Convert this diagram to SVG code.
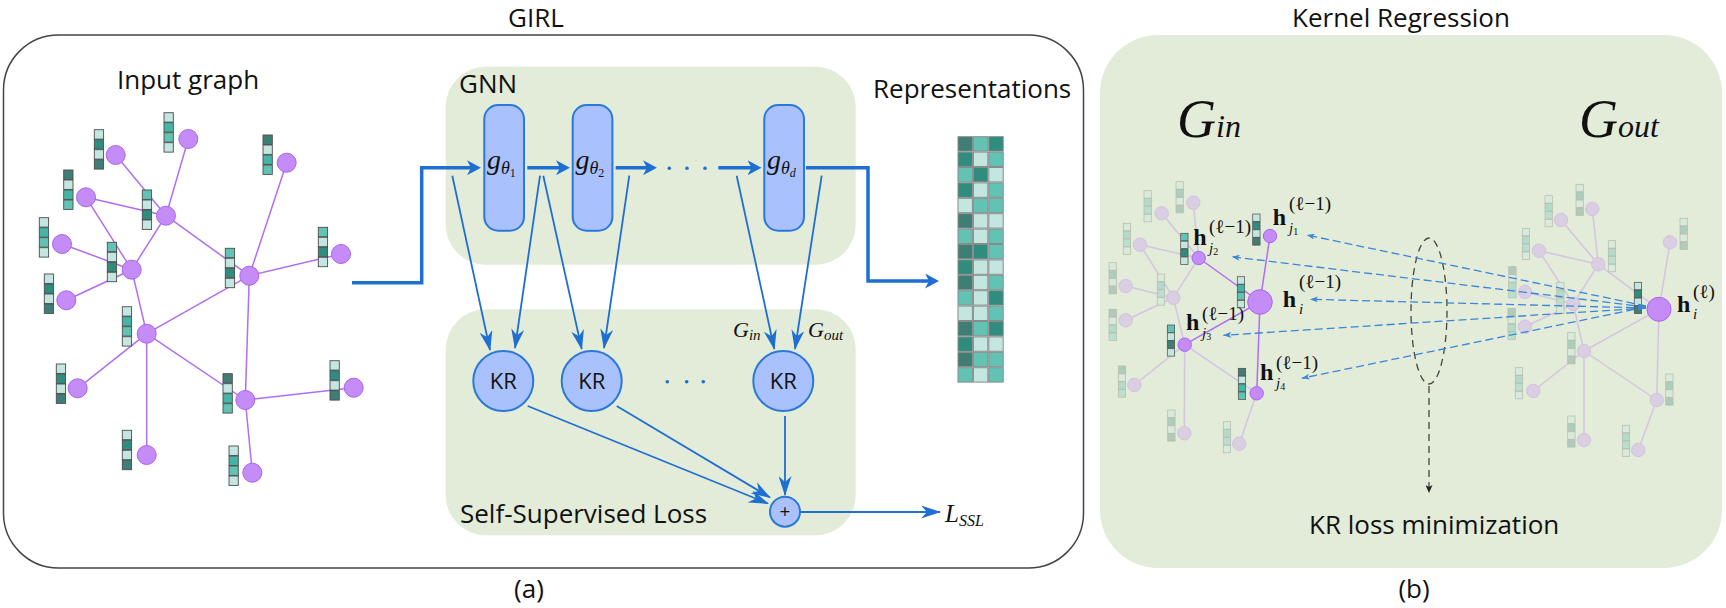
<svg xmlns="http://www.w3.org/2000/svg" width="1726" height="608" viewBox="0 0 1726 608">
<defs>
<style>
.sans{font-family:"Open Sans","Liberation Sans",sans-serif;fill:#111}
.t26{font-size:26px}
.serif{font-family:"Liberation Serif","DejaVu Serif",serif;fill:#111}
.frame{fill:none;stroke:#444;stroke-width:1.5}
.panel{fill:#e3ecd9}
.gbox{fill:#a9c2fd;stroke:#2a78d8;stroke-width:2}
.thick{fill:none;stroke:#1f6fd1;stroke-width:3.5}
.thin{fill:none;stroke:#1f6fd1;stroke-width:1.8}
.ge{stroke:#b06ef2;stroke-width:1.5;fill:none}
.gn{fill:#c58cf8;stroke:#a865ee;stroke-width:1}
.cell{stroke:#4c4c4c;stroke-width:0.9}
.mc{stroke:#8a8a8a;stroke-width:1}
.cD{fill:#3f7e75}.cT{fill:#2f8c7e}.cE{fill:#45b5a5}.cM{fill:#62c3b5}.cL{fill:#c3e6e1}
.faded{opacity:0.3}
.bd{fill:none;stroke:#3a86d8;stroke-width:1.3;stroke-dasharray:8 4}
.kd{fill:none;stroke:#444;stroke-width:1.3;stroke-dasharray:7 5}
.dot{fill:#1f6fd1}
</style>
<marker id="ahT" viewBox="0 0 14 15" refX="10" refY="7.5" markerWidth="14" markerHeight="15" markerUnits="userSpaceOnUse" orient="auto"><path d="M0,0 L14,7.5 L0,15 L4,7.5 z" fill="#1f6fd1"/></marker>
<marker id="ahS" viewBox="0 0 20 13" refX="19" refY="6.5" markerWidth="20" markerHeight="13" markerUnits="userSpaceOnUse" orient="auto"><path d="M0,0 L20,6.5 L0,13 L6,6.5 z" fill="#1f6fd1"/></marker>
<marker id="ahB" viewBox="0 0 8 6" refX="8" refY="3" markerWidth="8" markerHeight="6" markerUnits="userSpaceOnUse" orient="auto-start-reverse"><path d="M0,0 L8,3 L0,6 L2,3 z" fill="#3a86d8"/></marker>
<marker id="ahK" viewBox="0 0 8 7" refX="8" refY="3.5" markerWidth="8" markerHeight="7" markerUnits="userSpaceOnUse" orient="auto"><path d="M0,0 L8,3.5 L0,7 L2,3.5 z" fill="#222"/></marker>
<g id="v1"><rect class="cell cL" x="0" y="0" width="9.3" height="9.4"/><rect class="cell cE" x="0" y="10" width="9.3" height="9.4"/><rect class="cell cM" x="0" y="20" width="9.3" height="9.4"/><rect class="cell cL" x="0" y="30" width="9.3" height="9.4"/></g>
<g id="v2"><rect class="cell cL" x="0" y="0" width="9.3" height="9.4"/><rect class="cell cT" x="0" y="10" width="9.3" height="9.4"/><rect class="cell cL" x="0" y="20" width="9.3" height="9.4"/><rect class="cell cD" x="0" y="30" width="9.3" height="9.4"/></g>
<g id="v3"><rect class="cell cD" x="0" y="0" width="9.3" height="9.4"/><rect class="cell cL" x="0" y="10" width="9.3" height="9.4"/><rect class="cell cE" x="0" y="20" width="9.3" height="9.4"/><rect class="cell cM" x="0" y="30" width="9.3" height="9.4"/></g>
<g id="v4"><rect class="cell cM" x="0" y="0" width="9.3" height="9.4"/><rect class="cell cL" x="0" y="10" width="9.3" height="9.4"/><rect class="cell cT" x="0" y="20" width="9.3" height="9.4"/><rect class="cell cL" x="0" y="30" width="9.3" height="9.4"/></g>
<g id="v5"><rect class="cell cM" x="0" y="0" width="9.3" height="9.4"/><rect class="cell cL" x="0" y="10" width="9.3" height="9.4"/><rect class="cell cD" x="0" y="20" width="9.3" height="9.4"/><rect class="cell cL" x="0" y="30" width="9.3" height="9.4"/></g>
</defs>

<!-- Panel (a) frame and titles -->
<g id="panel-a">
<rect class="frame" x="3.5" y="35" width="1080" height="533" rx="55"/>
<text class="sans t26" x="536" y="27" text-anchor="middle">GIRL</text>
<text class="sans t26" x="529" y="598" text-anchor="middle">(a)</text>
</g>

<!-- Input graph -->
<g id="input-graph">
<text class="sans t26" x="117" y="89">Input graph</text>
<g class="ge">
<line x1="188.3" y1="139" x2="166" y2="215.7"/>
<line x1="115.7" y1="155" x2="166" y2="215.7"/>
<line x1="86" y1="197.3" x2="166" y2="215.7"/>
<line x1="86" y1="197.3" x2="131.7" y2="269.7"/>
<line x1="166" y1="215.7" x2="131.7" y2="269.7"/>
<line x1="166" y1="215.7" x2="249.3" y2="275.7"/>
<line x1="286.7" y1="162.7" x2="249.3" y2="275.7"/>
<line x1="341" y1="254" x2="249.3" y2="275.7"/>
<line x1="62" y1="244" x2="131.7" y2="269.7"/>
<line x1="66.3" y1="300.3" x2="131.7" y2="269.7"/>
<line x1="131.7" y1="269.7" x2="146.7" y2="333.7"/>
<line x1="146.7" y1="333.7" x2="249.3" y2="275.7"/>
<line x1="146.7" y1="333.7" x2="77.7" y2="388.3"/>
<line x1="146.7" y1="333.7" x2="146.7" y2="455"/>
<line x1="146.7" y1="333.7" x2="245.3" y2="400"/>
<line x1="249.3" y1="275.7" x2="245.3" y2="400"/>
<line x1="245.3" y1="400" x2="353.7" y2="387.7"/>
<line x1="245.3" y1="400" x2="252.3" y2="472.7"/>
</g>
<use href="#v1" x="164" y="112.7"/>
<use href="#v2" x="94.3" y="129.7"/>
<use href="#v3" x="63.7" y="170"/>
<use href="#v4" x="142.3" y="190"/>
<use href="#v3" x="263" y="135"/>
<use href="#v1" x="39.3" y="217.7"/>
<use href="#v4" x="107.3" y="242.3"/>
<use href="#v2" x="44.3" y="274"/>
<use href="#v4" x="225.3" y="248.3"/>
<use href="#v4" x="318.3" y="227.3"/>
<use href="#v1" x="122.3" y="306.7"/>
<use href="#v2" x="56.3" y="364"/>
<use href="#v3" x="223" y="373.7"/>
<use href="#v2" x="330" y="360.7"/>
<use href="#v2" x="122.3" y="430.3"/>
<use href="#v1" x="229" y="446"/>
<g class="gn">
<circle cx="188.3" cy="139" r="9.5"/>
<circle cx="115.7" cy="155" r="9.5"/>
<circle cx="86" cy="197.3" r="9.5"/>
<circle cx="166" cy="215.7" r="9.5"/>
<circle cx="286.7" cy="162.7" r="9.5"/>
<circle cx="62" cy="244" r="9.5"/>
<circle cx="131.7" cy="269.7" r="9.5"/>
<circle cx="249.3" cy="275.7" r="9.5"/>
<circle cx="341" cy="254" r="9.5"/>
<circle cx="66.3" cy="300.3" r="9.5"/>
<circle cx="146.7" cy="333.7" r="9.5"/>
<circle cx="77.7" cy="388.3" r="9.5"/>
<circle cx="245.3" cy="400" r="9.5"/>
<circle cx="353.7" cy="387.7" r="9.5"/>
<circle cx="146.7" cy="455" r="9.5"/>
<circle cx="252.3" cy="472.7" r="9.5"/>
</g>
</g>

<!-- GNN block -->
<g id="gnn">
<rect class="panel" x="445.7" y="66.7" width="410" height="198" rx="40"/>
<text class="sans t26" x="459" y="93">GNN</text>
</g>
<g id="g1">
<rect class="gbox" x="484.3" y="105" width="39.7" height="125.7" rx="14"/>
<text class="serif" x="487" y="169" font-style="italic"><tspan font-size="28">g</tspan><tspan font-size="18" dy="5">θ</tspan><tspan font-size="12" dy="3" font-style="normal">1</tspan></text>
</g>
<g id="g2">
<rect class="gbox" x="572.7" y="105" width="39.7" height="125.7" rx="14"/>
<text class="serif" x="575.5" y="169" font-style="italic"><tspan font-size="28">g</tspan><tspan font-size="18" dy="5">θ</tspan><tspan font-size="12" dy="3" font-style="normal">2</tspan></text>
</g>
<g id="gd">
<rect class="gbox" x="764.3" y="105" width="39.7" height="125.7" rx="14"/>
<text class="serif" x="767" y="169" font-style="italic"><tspan font-size="28">g</tspan><tspan font-size="18" dy="5">θ</tspan><tspan font-size="12" dy="3">d</tspan></text>
</g>
<g id="gnn-dots" class="dot">
<circle cx="669.3" cy="168.3" r="1.8"/><circle cx="687" cy="168.3" r="1.8"/><circle cx="705" cy="168.3" r="1.8"/>
</g>

<!-- Representations -->
<g id="representations">
<text class="sans t26" x="873" y="98">Representations</text>
<g transform="translate(958,136.7)">
<rect class="mc cD" x="0" y="0" width="14.4" height="14.4"/><rect class="mc cM" x="15.4" y="0" width="14.4" height="14.4"/><rect class="mc cT" x="30.8" y="0" width="14.4" height="14.4"/>
<rect class="mc cT" x="0" y="15.4" width="14.4" height="14.4"/><rect class="mc cL" x="15.4" y="15.4" width="14.4" height="14.4"/><rect class="mc cM" x="30.8" y="15.4" width="14.4" height="14.4"/>
<rect class="mc cM" x="0" y="30.8" width="14.4" height="14.4"/><rect class="mc cT" x="15.4" y="30.8" width="14.4" height="14.4"/><rect class="mc cL" x="30.8" y="30.8" width="14.4" height="14.4"/>
<rect class="mc cT" x="0" y="46.2" width="14.4" height="14.4"/><rect class="mc cL" x="15.4" y="46.2" width="14.4" height="14.4"/><rect class="mc cM" x="30.8" y="46.2" width="14.4" height="14.4"/>
<rect class="mc cL" x="0" y="61.6" width="14.4" height="14.4"/><rect class="mc cM" x="15.4" y="61.6" width="14.4" height="14.4"/><rect class="mc cM" x="30.8" y="61.6" width="14.4" height="14.4"/>
<rect class="mc cD" x="0" y="77" width="14.4" height="14.4"/><rect class="mc cL" x="15.4" y="77" width="14.4" height="14.4"/><rect class="mc cL" x="30.8" y="77" width="14.4" height="14.4"/>
<rect class="mc cM" x="0" y="92.4" width="14.4" height="14.4"/><rect class="mc cL" x="15.4" y="92.4" width="14.4" height="14.4"/><rect class="mc cM" x="30.8" y="92.4" width="14.4" height="14.4"/>
<rect class="mc cD" x="0" y="107.8" width="14.4" height="14.4"/><rect class="mc cT" x="15.4" y="107.8" width="14.4" height="14.4"/><rect class="mc cM" x="30.8" y="107.8" width="14.4" height="14.4"/>
<rect class="mc cT" x="0" y="123.2" width="14.4" height="14.4"/><rect class="mc cL" x="15.4" y="123.2" width="14.4" height="14.4"/><rect class="mc cL" x="30.8" y="123.2" width="14.4" height="14.4"/>
<rect class="mc cD" x="0" y="138.6" width="14.4" height="14.4"/><rect class="mc cL" x="15.4" y="138.6" width="14.4" height="14.4"/><rect class="mc cM" x="30.8" y="138.6" width="14.4" height="14.4"/>
<rect class="mc cM" x="0" y="154" width="14.4" height="14.4"/><rect class="mc cL" x="15.4" y="154" width="14.4" height="14.4"/><rect class="mc cT" x="30.8" y="154" width="14.4" height="14.4"/>
<rect class="mc cL" x="0" y="169.4" width="14.4" height="14.4"/><rect class="mc cL" x="15.4" y="169.4" width="14.4" height="14.4"/><rect class="mc cM" x="30.8" y="169.4" width="14.4" height="14.4"/>
<rect class="mc cD" x="0" y="184.8" width="14.4" height="14.4"/><rect class="mc cM" x="15.4" y="184.8" width="14.4" height="14.4"/><rect class="mc cT" x="30.8" y="184.8" width="14.4" height="14.4"/>
<rect class="mc cT" x="0" y="200.2" width="14.4" height="14.4"/><rect class="mc cL" x="15.4" y="200.2" width="14.4" height="14.4"/><rect class="mc cL" x="30.8" y="200.2" width="14.4" height="14.4"/>
<rect class="mc cD" x="0" y="215.6" width="14.4" height="14.4"/><rect class="mc cM" x="15.4" y="215.6" width="14.4" height="14.4"/><rect class="mc cM" x="30.8" y="215.6" width="14.4" height="14.4"/>
<rect class="mc cM" x="0" y="231" width="14.4" height="14.4"/><rect class="mc cL" x="15.4" y="231" width="14.4" height="14.4"/><rect class="mc cM" x="30.8" y="231" width="14.4" height="14.4"/>
</g>
</g>

<!-- Self-supervised loss block -->
<g id="ssl">
<rect class="panel" x="445.7" y="309.3" width="410" height="226" rx="40"/>
<text class="sans t26" x="460" y="523">Self-Supervised Loss</text>
<text class="serif" x="733" y="337" font-style="italic"><tspan font-size="22">G</tspan><tspan font-size="15" dy="3">in</tspan></text>
<text class="serif" x="808" y="337" font-style="italic"><tspan font-size="22">G</tspan><tspan font-size="15" dy="3">out</tspan></text>
</g>
<g id="kr1"><circle class="gbox" cx="503.3" cy="381" r="30"/><text class="sans" x="503.3" y="389" font-size="22" text-anchor="middle">KR</text></g>
<g id="kr2"><circle class="gbox" cx="591.7" cy="381" r="30"/><text class="sans" x="591.7" y="389" font-size="22" text-anchor="middle">KR</text></g>
<g id="kr3"><circle class="gbox" cx="783.3" cy="381" r="30"/><text class="sans" x="783.3" y="389" font-size="22" text-anchor="middle">KR</text></g>
<g id="kr-dots" class="dot"><circle cx="667.3" cy="381.7" r="1.8"/><circle cx="686.7" cy="381.7" r="1.8"/><circle cx="703.3" cy="381.7" r="1.8"/></g>
<g id="plus"><circle class="gbox" cx="785" cy="511.7" r="15"/><text class="sans" x="785" y="518" font-size="19" text-anchor="middle">+</text></g>
<g id="lssl"><text class="serif" x="945" y="522" font-style="italic"><tspan font-size="25">L</tspan><tspan font-size="16" dy="4">SSL</tspan></text></g>

<!-- Connectors of panel (a) -->
<g id="connectors-a">
<path class="thick" d="M352,282.7 H421.7 V167.7 H477" marker-end="url(#ahT)"/>
<path class="thick" d="M527.3,167.7 H566" marker-end="url(#ahT)"/>
<path class="thick" d="M615.7,167.7 H653" marker-end="url(#ahT)"/>
<path class="thick" d="M718.3,167.7 H757.5" marker-end="url(#ahT)"/>
<path class="thick" d="M806,167.7 H868 V281 H935" marker-end="url(#ahT)"/>
<line class="thin" x1="452.3" y1="175.7" x2="490" y2="350" marker-end="url(#ahS)"/>
<line class="thin" x1="540" y1="175.7" x2="515" y2="348" marker-end="url(#ahS)"/>
<line class="thin" x1="543.3" y1="175.7" x2="581.7" y2="349" marker-end="url(#ahS)"/>
<line class="thin" x1="629.3" y1="175.7" x2="604" y2="348" marker-end="url(#ahS)"/>
<line class="thin" x1="736.7" y1="175.7" x2="774.3" y2="349" marker-end="url(#ahS)"/>
<line class="thin" x1="821.7" y1="175.7" x2="795" y2="349" marker-end="url(#ahS)"/>
<line class="thin" x1="527.7" y1="406" x2="768" y2="503.5" marker-end="url(#ahS)"/>
<line class="thin" x1="616.7" y1="406" x2="770" y2="497.5" marker-end="url(#ahS)"/>
<line class="thin" x1="785" y1="416" x2="785" y2="495" marker-end="url(#ahS)"/>
<line class="thin" x1="800.7" y1="512" x2="940" y2="512" marker-end="url(#ahS)"/>
</g>

<!-- Panel (b) -->
<g id="panel-b">
<rect class="panel" x="1100" y="35" width="622" height="533" rx="58"/>
<text class="sans t26" x="1401" y="27" text-anchor="middle">Kernel Regression</text>
<text class="sans t26" x="1414" y="598" text-anchor="middle">(b)</text>
<text class="serif" x="1177" y="136.7" font-style="italic"><tspan font-size="54">G</tspan><tspan font-size="32">in</tspan></text>
<text class="serif" x="1579" y="136.7" font-style="italic"><tspan font-size="54">G</tspan><tspan font-size="32">out</tspan></text>
<text class="sans t26" x="1309" y="534">KR loss minimization</text>
</g>

<!-- Faded context graphs -->
<g id="faded-in" class="faded">
<g class="ge">
<line x1="1198.7" y1="258" x2="1193.3" y2="202.7"/>
<line x1="1198.7" y1="258" x2="1161.7" y2="213.3"/>
<line x1="1198.7" y1="258" x2="1140" y2="244.7"/>
<line x1="1198.7" y1="258" x2="1173.3" y2="297.7"/>
<line x1="1173.3" y1="297.7" x2="1140" y2="244.7"/>
<line x1="1173.3" y1="297.7" x2="1125.7" y2="286"/>
<line x1="1173.3" y1="297.7" x2="1125.7" y2="320.3"/>
<line x1="1173.3" y1="297.7" x2="1184.7" y2="344.7"/>
<line x1="1184.7" y1="344.7" x2="1134.3" y2="385"/>
<line x1="1184.7" y1="344.7" x2="1184.3" y2="433.3"/>
<line x1="1184.7" y1="344.7" x2="1256.7" y2="393.3"/>
<line x1="1256.7" y1="393.3" x2="1239.3" y2="443.7"/>
</g>
<g transform="translate(1176,181.7) scale(0.79)"><use href="#v2"/></g>
<g transform="translate(1144,190.7) scale(0.79)"><use href="#v1"/></g>
<g transform="translate(1123.3,223.3) scale(0.79)"><use href="#v1"/></g>
<g transform="translate(1157.3,274) scale(0.79)"><use href="#v1"/></g>
<g transform="translate(1109,262.7) scale(0.79)"><use href="#v2"/></g>
<g transform="translate(1109,309.3) scale(0.79)"><use href="#v3"/></g>
<g transform="translate(1118.3,366) scale(0.79)"><use href="#v3"/></g>
<g transform="translate(1167.7,410) scale(0.79)"><use href="#v2"/></g>
<g transform="translate(1223.3,421.7) scale(0.79)"><use href="#v1"/></g>
<g class="gn">
<circle cx="1193.3" cy="202.7" r="6.7"/><circle cx="1161.7" cy="213.3" r="6.7"/><circle cx="1140" cy="244.7" r="6.7"/>
<circle cx="1173.3" cy="297.7" r="6.7"/><circle cx="1125.7" cy="286" r="6.7"/><circle cx="1125.7" cy="320.3" r="6.7"/>
<circle cx="1134.3" cy="385" r="6.7"/><circle cx="1184.3" cy="433.3" r="6.7"/><circle cx="1239.3" cy="443.7" r="6.7"/>
</g>
</g>

<g id="faded-out" class="faded">
<g class="ge">
<line x1="1598.3" y1="264.3" x2="1592.3" y2="209"/>
<line x1="1598.3" y1="264.3" x2="1561" y2="220"/>
<line x1="1598.3" y1="264.3" x2="1539" y2="250.7"/>
<line x1="1598.3" y1="264.3" x2="1573.3" y2="304"/>
<line x1="1598.3" y1="264.3" x2="1659" y2="309.3"/>
<line x1="1573.3" y1="304" x2="1539" y2="250.7"/>
<line x1="1573.3" y1="304" x2="1525" y2="292"/>
<line x1="1573.3" y1="304" x2="1525" y2="326.7"/>
<line x1="1573.3" y1="304" x2="1584" y2="351"/>
<line x1="1584" y1="351" x2="1533.3" y2="391"/>
<line x1="1584" y1="351" x2="1584" y2="440"/>
<line x1="1584" y1="351" x2="1656.7" y2="400"/>
<line x1="1584" y1="351" x2="1659" y2="309.3"/>
<line x1="1659" y1="309.3" x2="1670" y2="242.3"/>
<line x1="1659" y1="309.3" x2="1656.7" y2="400"/>
<line x1="1656.7" y1="400" x2="1638.3" y2="450"/>
</g>
<g transform="translate(1576,184.3) scale(0.79)"><use href="#v2"/></g>
<g transform="translate(1545,195.7) scale(0.79)"><use href="#v1"/></g>
<g transform="translate(1522.3,228.3) scale(0.79)"><use href="#v1"/></g>
<g transform="translate(1608.3,240.7) scale(0.79)"><use href="#v1"/></g>
<g transform="translate(1680,218.3) scale(0.79)"><use href="#v2"/></g>
<g transform="translate(1508.7,266.7) scale(0.79)"><use href="#v3"/></g>
<g transform="translate(1556.7,282.3) scale(0.79)"><use href="#v1"/></g>
<g transform="translate(1508,308.3) scale(0.79)"><use href="#v3"/></g>
<g transform="translate(1567.7,332.7) scale(0.79)"><use href="#v2"/></g>
<g transform="translate(1515.3,367.7) scale(0.79)"><use href="#v1"/></g>
<g transform="translate(1665.7,374) scale(0.79)"><use href="#v2"/></g>
<g transform="translate(1567.7,416) scale(0.79)"><use href="#v2"/></g>
<g transform="translate(1622.3,425.3) scale(0.79)"><use href="#v1"/></g>
<g class="gn">
<circle cx="1592.3" cy="209" r="6.7"/><circle cx="1561" cy="220" r="6.7"/><circle cx="1539" cy="250.7" r="6.7"/>
<circle cx="1598.3" cy="264.3" r="6.7"/><circle cx="1670" cy="242.3" r="6.7"/><circle cx="1525" cy="292" r="6.7"/>
<circle cx="1573.3" cy="304" r="6.7"/><circle cx="1525" cy="326.7" r="6.7"/><circle cx="1584" cy="351" r="6.7"/>
<circle cx="1533.3" cy="391" r="6.7"/><circle cx="1656.7" cy="400" r="6.7"/><circle cx="1584" cy="440" r="6.7"/>
<circle cx="1638.3" cy="450" r="6.7"/>
</g>
</g>

<!-- Highlighted neighbourhood in G_in -->
<g id="hl-edges" class="ge">
<line x1="1260" y1="302" x2="1270" y2="236"/>
<line x1="1260" y1="302" x2="1198.7" y2="258"/>
<line x1="1260" y1="302" x2="1184.7" y2="344.7"/>
<line x1="1260" y1="302" x2="1256.7" y2="393.3"/>
</g>
<g id="node-j1"><g transform="translate(1252.7,214) scale(0.79)"><use href="#v2"/></g><circle class="gn" cx="1270" cy="236" r="6.7"/></g>
<g id="node-j2"><g transform="translate(1180.7,233.3) scale(0.79)"><use href="#v4"/></g><circle class="gn" cx="1198.7" cy="258" r="6.7"/></g>
<g id="node-i"><g transform="translate(1237.3,276.7) scale(0.79)"><use href="#v1"/></g><circle class="gn" cx="1260" cy="302" r="12.3"/></g>
<g id="node-j3"><g transform="translate(1167.3,325) scale(0.79)"><use href="#v5"/></g><circle class="gn" cx="1184.7" cy="344.7" r="6.7"/></g>
<g id="node-j4"><g transform="translate(1238.3,368.3) scale(0.79)"><use href="#v3"/></g><circle class="gn" cx="1256.7" cy="393.3" r="6.7"/></g>
<g id="node-out-i"><g transform="translate(1634.3,282.3) scale(0.79)"><use href="#v2"/></g><circle class="gn" cx="1659" cy="309.3" r="12"/></g>

<!-- Labels -->
<g id="labels" class="serif">
<text x="1272.7" y="225" font-size="24" font-weight="bold">h</text>
<text x="1289" y="210" font-size="19">(ℓ−1)</text>
<text x="1289" y="233" font-size="15" font-style="italic">j<tspan font-size="10" font-style="normal" dy="2">1</tspan></text>

<text x="1193.3" y="245" font-size="24" font-weight="bold">h</text>
<text x="1209" y="233" font-size="19">(ℓ−1)</text>
<text x="1209" y="253" font-size="15" font-style="italic">j<tspan font-size="10" font-style="normal" dy="2">2</tspan></text>

<text x="1282.7" y="306.7" font-size="24" font-weight="bold">h</text>
<text x="1299" y="288" font-size="19">(ℓ−1)</text>
<text x="1299" y="314" font-size="15" font-style="italic">i</text>

<text x="1186" y="330" font-size="24" font-weight="bold">h</text>
<text x="1202" y="320" font-size="19">(ℓ−1)</text>
<text x="1202" y="338" font-size="15" font-style="italic">j<tspan font-size="10" font-style="normal" dy="2">3</tspan></text>

<text x="1260" y="380" font-size="24" font-weight="bold">h</text>
<text x="1276" y="369" font-size="19">(ℓ−1)</text>
<text x="1276" y="388" font-size="15" font-style="italic">j<tspan font-size="10" font-style="normal" dy="2">4</tspan></text>

<text x="1677" y="311.7" font-size="24" font-weight="bold">h</text>
<text x="1693" y="297.7" font-size="19">(ℓ)</text>
<text x="1693" y="319" font-size="15" font-style="italic">i</text>
</g>

<!-- Connectors of panel (b) -->
<g id="connectors-b">
<ellipse class="kd" cx="1429" cy="311" rx="18" ry="73"/>
<line class="kd" x1="1429" y1="386" x2="1429" y2="493" marker-end="url(#ahK)"/>
<line class="bd" x1="1646" y1="306" x2="1306.7" y2="235" marker-end="url(#ahB)"/>
<line class="bd" x1="1646" y1="307" x2="1231.7" y2="256.7" marker-end="url(#ahB)"/>
<line class="bd" x1="1646" y1="308" x2="1310" y2="299.3" marker-end="url(#ahB)" marker-start="url(#ahB)"/>
<line class="bd" x1="1646" y1="308" x2="1223.3" y2="335.3" marker-end="url(#ahB)"/>
<line class="bd" x1="1646" y1="307" x2="1301.7" y2="378.3" marker-end="url(#ahB)"/>
</g>
</svg>
